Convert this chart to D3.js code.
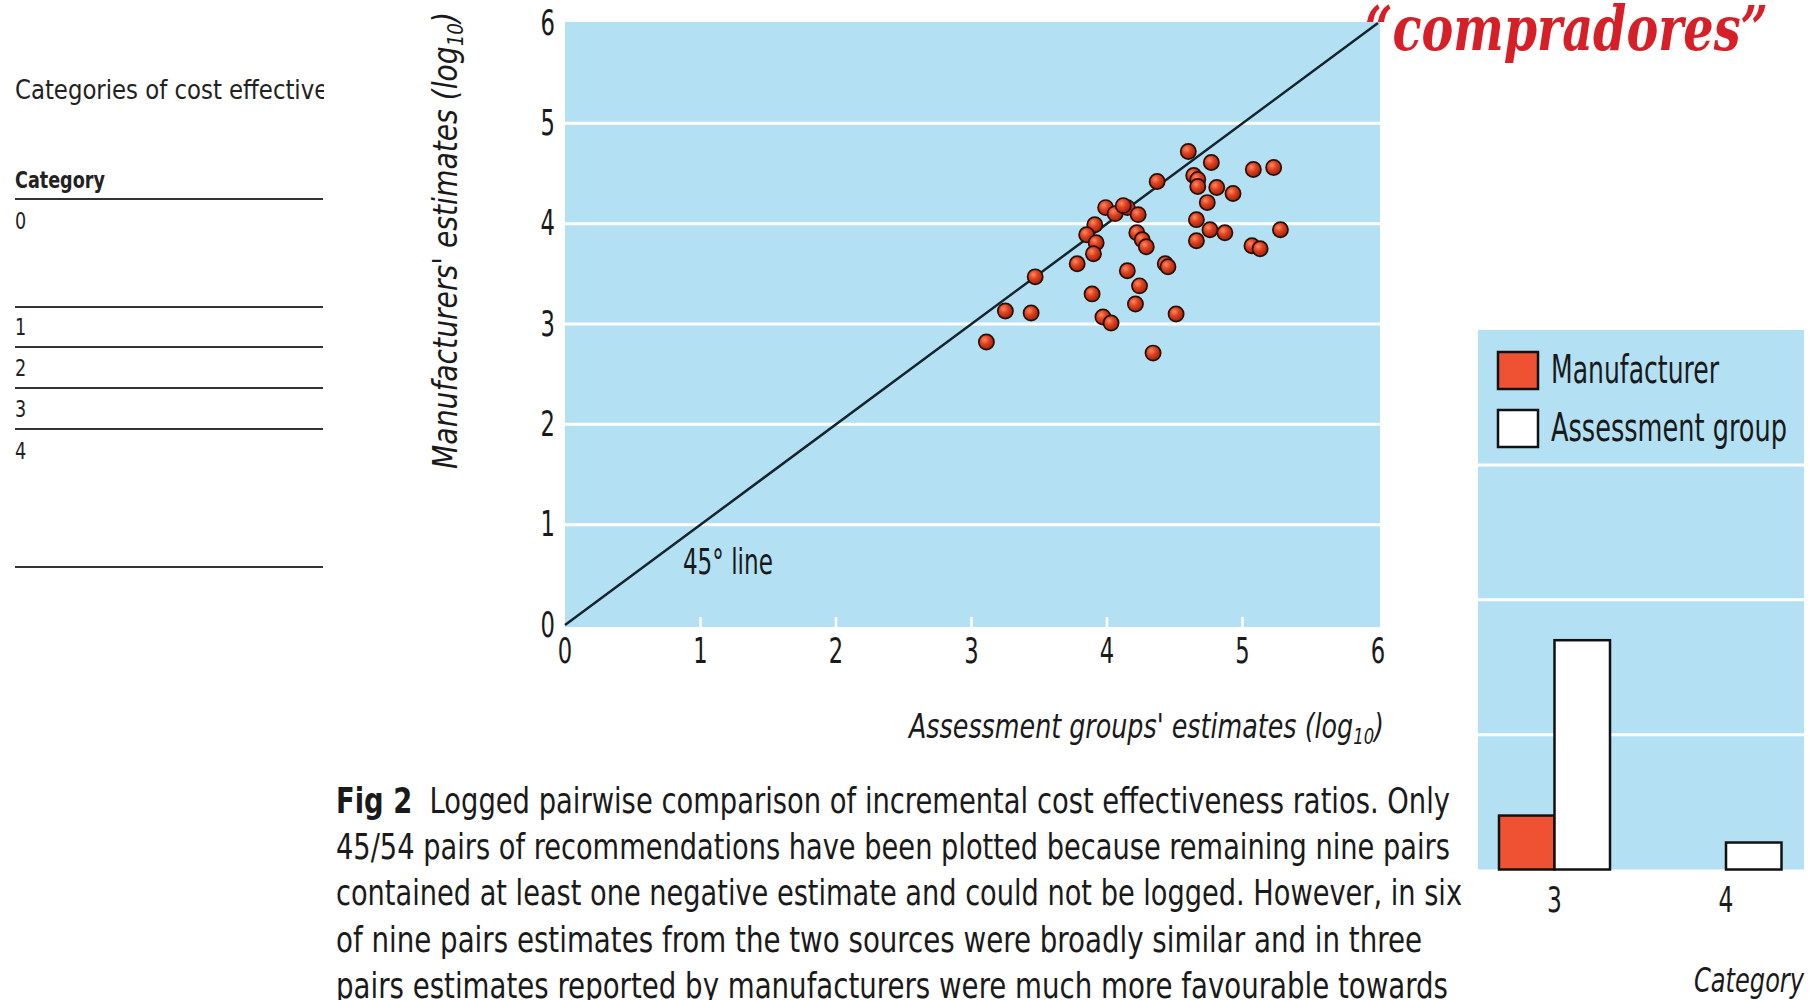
<!DOCTYPE html>
<html>
<head>
<meta charset="utf-8">
<script src="https://cdn.jsdelivr.net/npm/d3@7"></script>
<style>
  body { margin: 0; background: #fff; }
  svg { display: block; }
</style>
</head>
<body>
<svg id="fig" width="1816" height="1000"></svg>
<script>
// ---- data ----
const assessmentLog = [4.60, 4.77, 5.08, 5.23, 4.37, 4.64, 4.67, 4.67, 4.81, 4.93,
  4.74, 3.99, 4.06, 4.15, 4.12, 4.23, 4.66, 4.76, 4.87, 4.66,
  5.28, 5.07, 5.13, 3.91, 3.85, 3.92, 3.90, 4.22, 4.26, 4.29,
  3.78, 4.43, 4.45, 3.47, 4.15, 4.24, 3.89, 4.21, 3.25, 3.44,
  3.97, 4.03, 4.51, 3.11, 4.34];
const manufacturerLog = [4.72, 4.61, 4.54, 4.56, 4.42, 4.48, 4.44, 4.37, 4.36, 4.30,
  4.21, 4.16, 4.10, 4.16, 4.18, 4.09, 4.04, 3.94, 3.91, 3.83,
  3.94, 3.78, 3.75, 3.99, 3.89, 3.81, 3.70, 3.91, 3.84, 3.77,
  3.60, 3.60, 3.57, 3.47, 3.53, 3.38, 3.30, 3.20, 3.13, 3.11,
  3.07, 3.01, 3.10, 2.82, 2.71];
const logTicks = [0, 1, 2, 3, 4, 5, 6];

const barCategories = [3, 4];
const manufacturerCounts = [4, 0];
const assessmentCounts = [17, 2];
const barGridTicks = [10, 20, 30];

const tableTitle = "Categories of cost effectiveness";
const tableRows = ["0", "1", "2", "3", "4"];

const captionLines = [
  ["Fig 2", "  Logged pairwise comparison of incremental cost effectiveness ratios. Only"],
  ["", "45/54 pairs of recommendations have been plotted because remaining nine pairs"],
  ["", "contained at least one negative estimate and could not be logged. However, in six"],
  ["", "of nine pairs estimates from the two sources were broadly similar and in three"],
  ["", "pairs estimates reported by manufacturers were much more favourable towards"],
];
const captionWidths = [1114, 1114, 1126, 1086, 1112];

const NARROW = "'Liberation Sans Narrow', 'DejaVu Sans Condensed', 'Liberation Sans', sans-serif";
const BLUE = "#b3e0f3";
const RED = "#ef5233";
const SQUEEZE = 0.72; // horizontal squeeze for the condensed digits

const svg = d3.select("#fig");
const defs = svg.append("defs");

const grad = defs.append("radialGradient").attr("id", "ball")
  .attr("cx", "38%").attr("cy", "35%").attr("r", "65%");
grad.append("stop").attr("offset", "0%").attr("stop-color", "#ff8a62");
grad.append("stop").attr("offset", "45%").attr("stop-color", "#e2421f");
grad.append("stop").attr("offset", "100%").attr("stop-color", "#9a2410");

defs.append("clipPath").attr("id", "tableClip")
  .append("rect").attr("x", 0).attr("y", 0).attr("width", 324).attr("height", 1000);

// ---- left table fragment ----
const table = svg.append("g").attr("clip-path", "url(#tableClip)")
  .style("font-family", NARROW).attr("fill", "#222");

table.append("text").attr("transform", "translate(15,99) scale(0.94,1)")
  .style("font-size", "27px").text(tableTitle);
table.append("text").attr("transform", "translate(15,188) scale(0.85,1)")
  .style("font-size", "23px").style("font-weight", "bold").text("Category");

const ruleYs = [199, 307, 347, 388, 429, 567];
table.selectAll("line.rule").data(ruleYs).join("line")
  .attr("class", "rule")
  .attr("x1", 15).attr("x2", 323)
  .attr("y1", (d) => d).attr("y2", (d) => d)
  .attr("stroke", "#333").attr("stroke-width", 2);

const rowBaselines = [229, 335, 376, 417, 459];
table.selectAll("text.row").data(tableRows).join("text")
  .attr("class", "row")
  .attr("transform", (d, i) => `translate(15,${rowBaselines[i]}) scale(0.85,1)`)
  .style("font-size", "23px").text((d) => d);

// ---- scatter ----
const x = d3.scaleLinear().domain([0, 6]).range([565, 1378]);
const y = d3.scaleLinear().domain([0, 6]).range([625, 23]);

const scatter = svg.append("g");
scatter.append("rect")
  .attr("x", x(0)).attr("y", y(6) - 1)
  .attr("width", x(6) - x(0) + 2).attr("height", y(0) - y(6) + 3)
  .attr("fill", BLUE);

scatter.selectAll("line.grid").data(logTicks.slice(1, 6)).join("line")
  .attr("class", "grid")
  .attr("x1", x(0)).attr("x2", x(6) + 2)
  .attr("y1", (d) => y(d)).attr("y2", (d) => y(d))
  .attr("stroke", "#fff").attr("stroke-width", 3);

scatter.selectAll("line.xtick").data(logTicks.slice(1, 6)).join("line")
  .attr("class", "xtick")
  .attr("x1", (d) => x(d)).attr("x2", (d) => x(d))
  .attr("y1", y(0) + 2).attr("y2", y(0) - 8)
  .attr("stroke", "#fff").attr("stroke-width", 2.5);

scatter.append("line")
  .attr("x1", x(0)).attr("y1", y(0))
  .attr("x2", x(6)).attr("y2", y(6))
  .attr("stroke", "#14242c").attr("stroke-width", 2.5);

scatter.append("text")
  .attr("x", x(0.87)).attr("y", y(0.51))
  .style("font-family", NARROW).style("font-size", "35px").attr("fill", "#1a1a1a")
  .attr("textLength", 90).attr("lengthAdjust", "spacingAndGlyphs")
  .text("45° line");

scatter.selectAll("circle.pt").data(assessmentLog).join("circle")
  .attr("class", "pt")
  .attr("cx", (d) => x(d))
  .attr("cy", (d, i) => y(manufacturerLog[i]))
  .attr("r", 7.6)
  .attr("fill", "url(#ball)")
  .attr("stroke", "#2a0f06").attr("stroke-width", 1.7);

// axis numbers, squeezed horizontally to look like the condensed face
const yAxis = d3.axisLeft(y).tickValues(logTicks).tickSize(0).tickPadding(0).tickFormat(d3.format("d"));
const yG = svg.append("g").attr("transform", `translate(${x(0)},0)`).call(yAxis);
yG.select(".domain").remove();
yG.selectAll("text")
  .attr("x", -10 / SQUEEZE)
  .attr("transform", `scale(${SQUEEZE},1)`)
  .style("font-family", NARROW).style("font-size", "35px").attr("fill", "#1a1a1a");

const xAxis = d3.axisBottom(x).tickValues(logTicks).tickSize(0).tickPadding(13).tickFormat(d3.format("d"));
const xG = svg.append("g").attr("transform", `translate(0,${y(0)})`).call(xAxis);
xG.select(".domain").remove();
xG.selectAll("text")
  .attr("transform", `scale(${SQUEEZE},1)`)
  .style("font-family", NARROW).style("font-size", "35px").attr("fill", "#1a1a1a");
xG.selectAll(".tick").attr("transform", (d) => `translate(${x(d)},0)`);

const yTitle = svg.append("text")
  .attr("transform", "translate(457,469) rotate(-90)")
  .style("font-family", NARROW).style("font-size", "34px").style("font-style", "italic")
  .attr("fill", "#1a1a1a")
  .attr("textLength", 457).attr("lengthAdjust", "spacingAndGlyphs");
yTitle.append("tspan").text("Manufacturers' estimates (log");
yTitle.append("tspan").attr("dy", 6).style("font-size", "22px").text("10");
yTitle.append("tspan").attr("dy", -6).text(")");

const xTitle = svg.append("text")
  .attr("x", 909).attr("y", 738)
  .style("font-family", NARROW).style("font-size", "34px").style("font-style", "italic")
  .attr("fill", "#1a1a1a")
  .attr("textLength", 475).attr("lengthAdjust", "spacingAndGlyphs");
xTitle.append("tspan").text("Assessment groups' estimates (log");
xTitle.append("tspan").attr("dy", 6).style("font-size", "22px").text("10");
xTitle.append("tspan").attr("dy", -6).text(")");

// ---- caption ----
const caption = svg.append("g").style("font-family", NARROW).style("font-size", "36px").attr("fill", "#1a1a1a");
captionLines.forEach((parts, i) => {
  const t = caption.append("text")
    .attr("x", 336).attr("y", 813 + i * 46.2)
    .attr("textLength", captionWidths[i]).attr("lengthAdjust", "spacingAndGlyphs")
    .attr("xml:space", "preserve");
  if (parts[0]) t.append("tspan").style("font-weight", "bold").text(parts[0]);
  t.append("tspan").text(parts[1]);
});

// ---- bar chart fragment ----
const bx = d3.scaleLinear().domain([3, 4]).range([1554.5, 1726]);
const by = d3.scaleLinear().domain([0, 40]).range([869.5, 330]);
const barW = 55.5;

const bars = svg.append("g");
bars.append("rect")
  .attr("x", 1478).attr("y", by(40))
  .attr("width", 1804 - 1478).attr("height", by(0) - by(40))
  .attr("fill", BLUE);

bars.selectAll("line.bgrid").data(barGridTicks).join("line")
  .attr("class", "bgrid")
  .attr("x1", 1478).attr("x2", 1804)
  .attr("y1", (d) => by(d)).attr("y2", (d) => by(d))
  .attr("stroke", "#fff").attr("stroke-width", 3);

bars.selectAll("rect.manu").data(barCategories).join("rect")
  .attr("class", "manu")
  .attr("x", (d) => bx(d) - barW)
  .attr("y", (d, i) => by(manufacturerCounts[i]))
  .attr("width", barW)
  .attr("height", (d, i) => by(0) - by(manufacturerCounts[i]))
  .attr("fill", RED).attr("stroke", "#111").attr("stroke-width", 2.5)
  .style("display", (d, i) => (manufacturerCounts[i] > 0 ? null : "none"));

bars.selectAll("rect.assess").data(barCategories).join("rect")
  .attr("class", "assess")
  .attr("x", (d) => bx(d))
  .attr("y", (d, i) => by(assessmentCounts[i]))
  .attr("width", barW)
  .attr("height", (d, i) => by(0) - by(assessmentCounts[i]))
  .attr("fill", "#fff").attr("stroke", "#111").attr("stroke-width", 2.5);

const legendItems = [
  { label: "Manufacturer", fill: RED, y: 352, len: 168 },
  { label: "Assessment group", fill: "#fff", y: 410, len: 236 },
];
const legend = bars.selectAll("g.leg").data(legendItems).join("g").attr("class", "leg");
legend.append("rect")
  .attr("x", 1498).attr("y", (d) => d.y).attr("width", 40).attr("height", 37)
  .attr("fill", (d) => d.fill).attr("stroke", "#111").attr("stroke-width", 2.5);
legend.append("text")
  .attr("x", 1551).attr("y", (d) => d.y + 31)
  .style("font-family", NARROW).style("font-size", "39px").attr("fill", "#1a1a1a")
  .attr("textLength", (d) => d.len).attr("lengthAdjust", "spacingAndGlyphs")
  .text((d) => d.label);

bars.selectAll("text.cat").data(barCategories).join("text")
  .attr("class", "cat")
  .attr("transform", (d) => `translate(${bx(d)},912) scale(${SQUEEZE},1)`)
  .attr("text-anchor", "middle")
  .style("font-family", NARROW).style("font-size", "36px").attr("fill", "#1a1a1a")
  .text((d) => d);

svg.append("text")
  .attr("x", 1694).attr("y", 992)
  .style("font-family", NARROW).style("font-size", "34px").style("font-style", "italic")
  .attr("fill", "#1a1a1a")
  .attr("textLength", 110).attr("lengthAdjust", "spacingAndGlyphs")
  .text("Category");

// ---- red handwritten note ----
svg.append("text")
  .attr("x", 1365).attr("y", 50)
  .style("font-family", "'DejaVu Serif', serif").style("font-size", "62px")
  .style("font-style", "italic").style("font-weight", "bold")
  .attr("fill", "#d61f27")
  .attr("textLength", 403).attr("lengthAdjust", "spacingAndGlyphs")
  .text("\u201Ccompradores\u201D");
</script>
</body>
</html>
